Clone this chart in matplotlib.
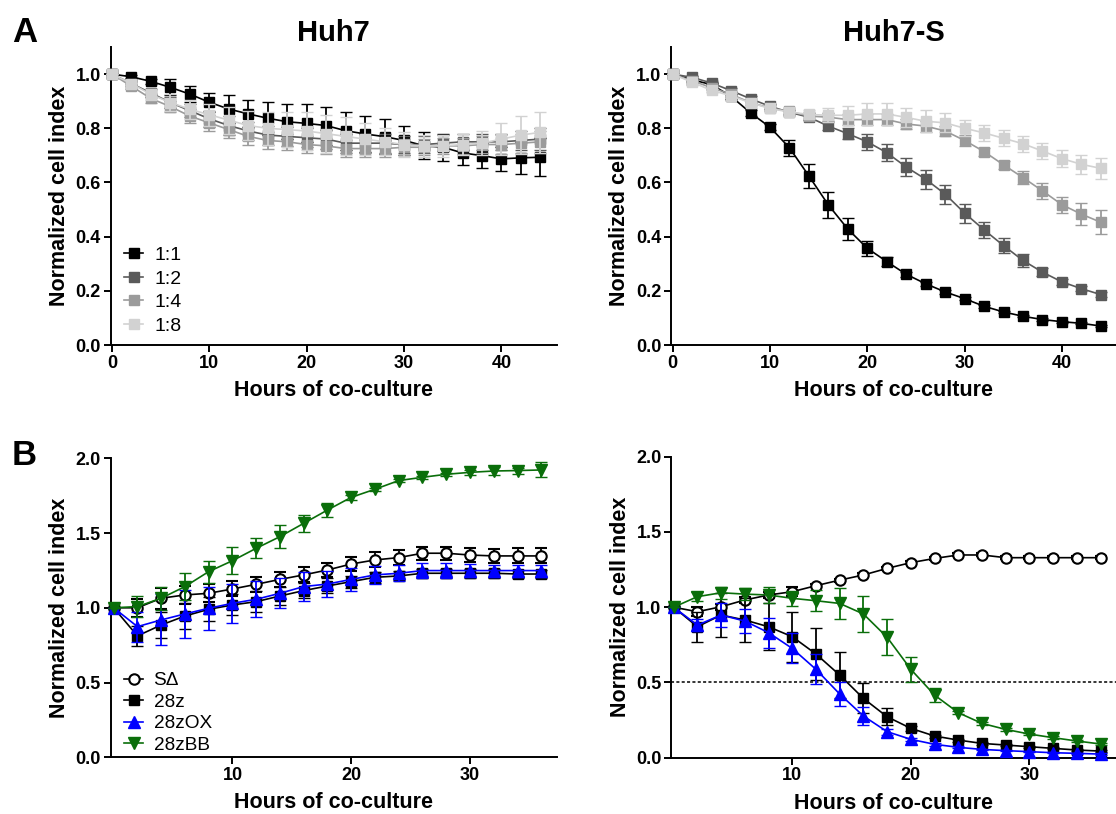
import matplotlib
matplotlib.use("Agg")
import matplotlib.pyplot as plt
from matplotlib.lines import Line2D
import numpy as np

plt.rcParams['font.family'] = ['Liberation Sans', 'DejaVu Sans']

# ---------------- Data ----------------
hours_a = list(range(0, 46, 2))          # 0..44
hours_b = list(range(0, 38, 2))          # 0..36

ratio_labels = ["1:1", "1:2", "1:4", "1:8"]
ratio_colors = ["#000000", "#5a5a5a", "#9b9b9b", "#d2d2d2"]

huh7_11 = [1.0, 0.990, 0.973, 0.951, 0.926, 0.896, 0.871, 0.853, 0.837, 0.824, 0.818, 0.810,
           0.791, 0.779, 0.769, 0.755, 0.736, 0.730, 0.709, 0.699, 0.687, 0.691, 0.693]
huh7_11_err = [0, 0.005, 0.01, 0.03, 0.03, 0.035, 0.05, 0.05, 0.06, 0.065, 0.07, 0.07,
               0.07, 0.065, 0.065, 0.055, 0.05, 0.05, 0.045, 0.045, 0.045, 0.06, 0.07]
huh7_12 = [1.0, 0.965, 0.93, 0.895, 0.865, 0.835, 0.81, 0.79, 0.775, 0.77, 0.765, 0.76,
           0.745, 0.745, 0.745, 0.74, 0.74, 0.745, 0.75, 0.75, 0.75, 0.755, 0.76]
huh7_12_err = [0, 0.01, 0.015, 0.02, 0.025, 0.03, 0.035, 0.035, 0.035, 0.035, 0.035, 0.035,
               0.035, 0.035, 0.035, 0.03, 0.03, 0.03, 0.03, 0.03, 0.03, 0.035, 0.04]
huh7_14 = [1.0, 0.955, 0.91, 0.88, 0.845, 0.82, 0.795, 0.77, 0.755, 0.75, 0.74, 0.735,
           0.725, 0.725, 0.725, 0.73, 0.73, 0.735, 0.735, 0.74, 0.74, 0.745, 0.75]
huh7_14_err = [0, 0.01, 0.015, 0.02, 0.025, 0.03, 0.03, 0.03, 0.03, 0.03, 0.03, 0.03,
               0.03, 0.03, 0.03, 0.03, 0.03, 0.03, 0.03, 0.03, 0.035, 0.035, 0.04]
huh7_18 = [1.0, 0.965, 0.925, 0.895, 0.87, 0.85, 0.83, 0.81, 0.8, 0.795, 0.79, 0.78,
           0.77, 0.76, 0.75, 0.74, 0.735, 0.735, 0.74, 0.745, 0.76, 0.775, 0.785]
huh7_18_err = [0, 0.01, 0.02, 0.03, 0.035, 0.04, 0.05, 0.055, 0.06, 0.065, 0.07, 0.07,
               0.07, 0.06, 0.05, 0.045, 0.04, 0.04, 0.04, 0.045, 0.06, 0.07, 0.075]

huhs_11 = [1.0, 0.979, 0.961, 0.918, 0.857, 0.804, 0.728, 0.624, 0.517, 0.428, 0.357, 0.308,
           0.261, 0.226, 0.196, 0.171, 0.143, 0.122, 0.106, 0.094, 0.086, 0.080, 0.070]
huhs_11_err = [0, 0.005, 0.005, 0.01, 0.01, 0.01, 0.03, 0.045, 0.047, 0.039, 0.028, 0.016,
               0.01, 0.008, 0.006, 0.005, 0.005, 0.004, 0.004, 0.004, 0.004, 0.004, 0.004]
huhs_12 = [1.0, 0.988, 0.967, 0.939, 0.909, 0.881, 0.859, 0.841, 0.808, 0.780, 0.750, 0.710,
           0.657, 0.612, 0.557, 0.487, 0.425, 0.367, 0.312, 0.269, 0.233, 0.208, 0.186]
huhs_12_err = [0, 0.005, 0.005, 0.01, 0.01, 0.01, 0.01, 0.01, 0.015, 0.02, 0.03, 0.032,
               0.032, 0.035, 0.035, 0.035, 0.03, 0.028, 0.025, 0.015, 0.01, 0.01, 0.01]
huhs_14 = [1.0, 0.975, 0.95, 0.925, 0.895, 0.875, 0.862, 0.845, 0.841, 0.832, 0.832, 0.832,
           0.816, 0.808, 0.79, 0.755, 0.714, 0.665, 0.618, 0.569, 0.518, 0.483, 0.453]
huhs_14_err = [0, 0.005, 0.005, 0.01, 0.01, 0.01, 0.01, 0.01, 0.015, 0.02, 0.02, 0.02,
               0.02, 0.02, 0.02, 0.02, 0.015, 0.015, 0.025, 0.03, 0.03, 0.04, 0.045]
huhs_18 = [1.0, 0.97, 0.94, 0.92, 0.894, 0.873, 0.86, 0.851, 0.848, 0.848, 0.853, 0.853,
           0.84, 0.826, 0.82, 0.80, 0.783, 0.763, 0.743, 0.716, 0.688, 0.667, 0.652]
huhs_18_err = [0, 0.005, 0.005, 0.01, 0.01, 0.01, 0.01, 0.015, 0.025, 0.035, 0.04, 0.04,
               0.035, 0.04, 0.035, 0.03, 0.03, 0.03, 0.03, 0.03, 0.03, 0.035, 0.04]

car_labels = ["S\u0394", "28z", "28zOX", "28zBB"]
car_colors = ["#000000", "#000000", "#0000ff", "#0a6e0a"]
car_markers = ["o", "s", "^", "v"]

huh7_sd = [1.0, 1.0, 1.064, 1.086, 1.097, 1.126, 1.157, 1.19, 1.22, 1.253, 1.293, 1.32,
           1.336, 1.365, 1.365, 1.353, 1.347, 1.347, 1.347]
huh7_sd_err = [0, 0.06, 0.07, 0.06, 0.06, 0.05, 0.05, 0.05, 0.05, 0.05, 0.05, 0.05,
               0.05, 0.045, 0.045, 0.045, 0.045, 0.05, 0.05]
huh7_28z = [1.0, 0.812, 0.885, 0.945, 0.99, 1.019, 1.041, 1.079, 1.115, 1.146, 1.175, 1.204,
            1.213, 1.231, 1.231, 1.231, 1.231, 1.226, 1.226]
huh7_28z_err = [0, 0.065, 0.09, 0.09, 0.08, 0.07, 0.07, 0.06, 0.05, 0.05, 0.04, 0.035,
                0.03, 0.03, 0.03, 0.03, 0.03, 0.03, 0.03]
huh7_ox = [1.0, 0.874, 0.919, 0.959, 0.997, 1.03, 1.057, 1.097, 1.142, 1.159, 1.19, 1.22,
           1.231, 1.249, 1.249, 1.249, 1.249, 1.249, 1.249]
huh7_ox_err = [0, 0.1, 0.17, 0.16, 0.145, 0.13, 0.12, 0.1, 0.095, 0.09, 0.075, 0.06,
               0.055, 0.05, 0.05, 0.045, 0.04, 0.04, 0.04]
huh7_bb = [1.0, 1.008, 1.064, 1.142, 1.242, 1.315, 1.398, 1.476, 1.565, 1.654, 1.739, 1.793,
           1.851, 1.873, 1.893, 1.906, 1.915, 1.918, 1.922]
huh7_bb_err = [0, 0.07, 0.078, 0.09, 0.074, 0.09, 0.067, 0.078, 0.056, 0.045, 0.015, 0.01,
               0.01, 0.01, 0.01, 0.015, 0.03, 0.02, 0.05]

huhs_sd = [1.0, 0.970, 1.003, 1.048, 1.081, 1.103, 1.143, 1.18, 1.214, 1.258, 1.296, 1.324,
           1.347, 1.347, 1.329, 1.329, 1.329, 1.329, 1.329]
huhs_sd_err = [0, 0.03, 0.02, 0.02, 0.02, 0.03, 0.01, 0.01, 0.01, 0.01, 0.01, 0.01,
               0.01, 0.01, 0.01, 0.01, 0.01, 0.01, 0.01]
huhs_28z = [1.0, 0.870, 0.948, 0.915, 0.870, 0.804, 0.689, 0.549, 0.394, 0.272, 0.195, 0.144,
            0.117, 0.095, 0.084, 0.073, 0.062, 0.051, 0.044]
huhs_28z_err = [0, 0.1, 0.148, 0.144, 0.155, 0.166, 0.175, 0.155, 0.1, 0.056, 0.015, 0.01,
                0.01, 0.008, 0.008, 0.006, 0.006, 0.005, 0.005]
huhs_ox = [1.0, 0.881, 0.948, 0.908, 0.831, 0.726, 0.587, 0.423, 0.277, 0.173, 0.122, 0.089,
           0.069, 0.055, 0.047, 0.040, 0.033, 0.029, 0.024]
huhs_ox_err = [0, 0.04, 0.08, 0.08, 0.1, 0.1, 0.1, 0.08, 0.06, 0.02, 0.01, 0.008,
               0.006, 0.005, 0.005, 0.004, 0.004, 0.004, 0.004]
huhs_bb = [1.0, 1.07, 1.096, 1.087, 1.081, 1.059, 1.043, 1.025, 0.955, 0.80, 0.587, 0.416,
           0.299, 0.228, 0.188, 0.157, 0.133, 0.111, 0.091]
huhs_bb_err = [0, 0.03, 0.04, 0.04, 0.05, 0.05, 0.07, 0.105, 0.12, 0.12, 0.085, 0.045,
               0.01, 0.01, 0.01, 0.008, 0.008, 0.006, 0.006]

half_line = 0.5

# ---------------- Figure ----------------
W, H = 1116, 814
fig = plt.figure(figsize=(W / 100, H / 100), dpi=100)

def ax_at(l, r, t, b):
    return fig.add_axes([l / W, 1 - b / H, (r - l) / W, (b - t) / H])

ax1 = ax_at(110.5, 557, 47, 345)
ax2 = ax_at(671, 1116, 47, 345)
ax3 = ax_at(110.7, 556.7, 458.3, 757.3)
ax4 = ax_at(671.3, 1116, 456.7, 757.7)

TICK_FS = 13
LAB_FS = 15.5

def style(ax):
    for s in ["top", "right"]:
        ax.spines[s].set_visible(False)
    for s in ["left", "bottom"]:
        ax.spines[s].set_linewidth(1.4)
    ax.tick_params(axis="both", direction="out", length=5, width=1.4,
                   labelsize=TICK_FS, pad=2)
    for lbl in ax.get_xticklabels() + ax.get_yticklabels():
        lbl.set_fontweight("bold")
    ax.set_ylabel("Normalized cell index", fontsize=LAB_FS, fontweight="bold", labelpad=4)
    ax.set_xlabel("Hours of co-culture", fontsize=LAB_FS, fontweight="bold", labelpad=6)

def plot_series(ax, x, y, e, color, marker, ms=7, mfc=None, mew=1.0, z=3):
    ax.errorbar(x, y, yerr=e, color=color, marker=marker, ms=ms,
                mfc=color if mfc is None else mfc, mec=color, mew=mew,
                lw=1.2, elinewidth=1.3, capsize=4, capthick=1.3,
                clip_on=False, zorder=z)
    return Line2D([], [], color=color, marker=marker, ms=ms,
                  mfc=color if mfc is None else mfc, mec=color, mew=mew, lw=1.2)

# Panel A
sets_a1 = [(huh7_11, huh7_11_err), (huh7_12, huh7_12_err), (huh7_14, huh7_14_err), (huh7_18, huh7_18_err)]
sets_a2 = [(huhs_11, huhs_11_err), (huhs_12, huhs_12_err), (huhs_14, huhs_14_err), (huhs_18, huhs_18_err)]
handles_a = []
for ax, sets in [(ax1, sets_a1), (ax2, sets_a2)]:
    hs = []
    for i, (y, e) in enumerate(sets):
        hs.append(plot_series(ax, hours_a, y, e, ratio_colors[i], "s", ms=7, z=3 + i))
    if not handles_a:
        handles_a = hs
    ax.set_ylim(0, 1.1)
    ax.set_yticks([0.0, 0.2, 0.4, 0.6, 0.8, 1.0])
    ax.set_yticklabels(["0.0", "0.2", "0.4", "0.6", "0.8", "1.0"])
    ax.set_xticks([0, 10, 20, 30, 40])
    style(ax)
ax1.set_xlim(-0.15, 45.7)
ax2.set_xlim(-0.17, 45.56)

ax1.set_title("Huh7", fontsize=21, fontweight="bold", pad=4)
ax2.set_title("Huh7-S", fontsize=21, fontweight="bold", pad=4)

# Panel B
sets_b1 = [(huh7_sd, huh7_sd_err), (huh7_28z, huh7_28z_err), (huh7_ox, huh7_ox_err), (huh7_bb, huh7_bb_err)]
sets_b2 = [(huhs_sd, huhs_sd_err), (huhs_28z, huhs_28z_err), (huhs_ox, huhs_ox_err), (huhs_bb, huhs_bb_err)]
handles_b = []
for ax, sets in [(ax3, sets_b1), (ax4, sets_b2)]:
    hs = []
    for i, (y, e) in enumerate(sets):
        if i == 0:
            hs.append(plot_series(ax, hours_b, y, e, car_colors[i], car_markers[i],
                                  ms=7.5, mfc="white", mew=1.5, z=3))
        else:
            ms = 7 if car_markers[i] == "s" else 8
            hs.append(plot_series(ax, hours_b, y, e, car_colors[i], car_markers[i],
                                  ms=ms, z=3 + i))
    if not handles_b:
        handles_b = hs
    ax.set_ylim(0, 2.0)
    ax.set_yticks([0.0, 0.5, 1.0, 1.5, 2.0])
    ax.set_yticklabels(["0.0", "0.5", "1.0", "1.5", "2.0"])
    ax.set_xticks([10, 20, 30])
    style(ax)
ax3.set_xlim(-0.25, 37.3)
ax4.set_xlim(-0.2, 37.3)
ax4.axhline(half_line, color="black", lw=1.1, ls=(0, (2, 1.5)), zorder=1)

# Legends
leg_kw = dict(frameon=False, handlelength=1.0, handletextpad=0.55,
              borderpad=0, borderaxespad=0, loc="lower left")
ax1.legend(handles_a, ratio_labels, bbox_to_anchor=(0.03, 0.035), fontsize=14,
           labelspacing=0.3, **leg_kw)
ax3.legend(handles_b, car_labels, bbox_to_anchor=(0.03, 0.012), fontsize=13.7,
           labelspacing=0.22, **leg_kw)

# Panel letters
fig.text(12 / W, 1 - 42 / H, "A", fontsize=25, fontweight="bold", ha="left", va="baseline")
fig.text(12 / W, 1 - 465 / H, "B", fontsize=25, fontweight="bold", ha="left", va="baseline")

fig.savefig("out.png", dpi=100)
